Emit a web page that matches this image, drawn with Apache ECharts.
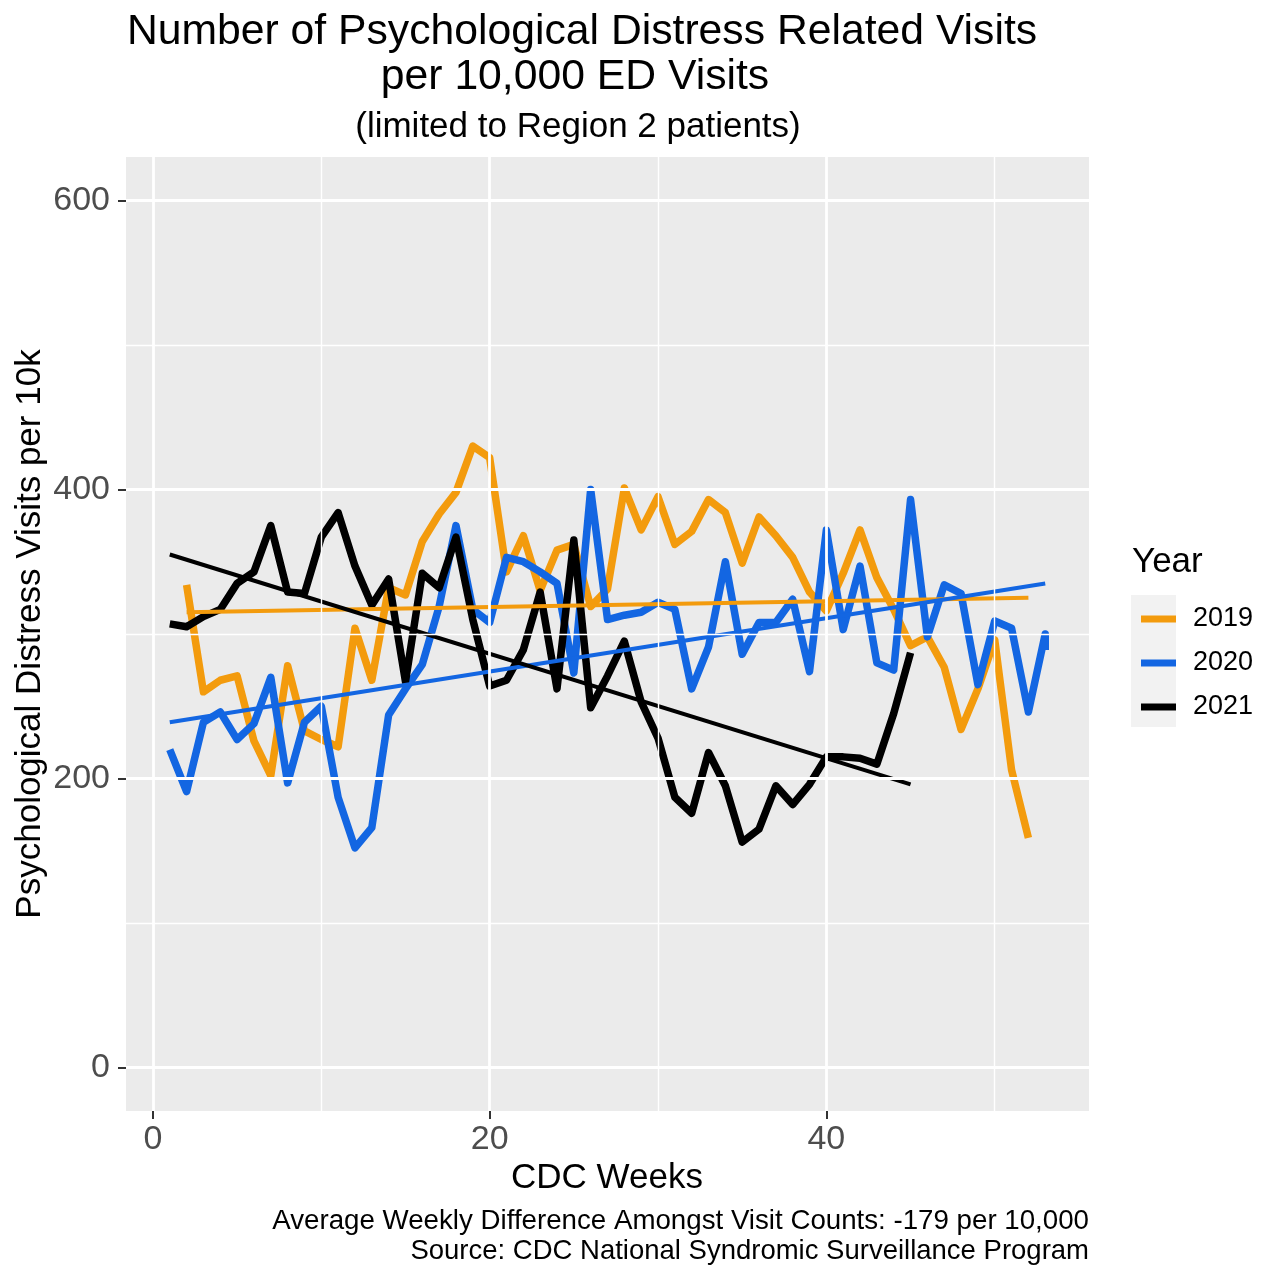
<!DOCTYPE html>
<html>
<head>
<meta charset="utf-8">
<script src="https://cdn.jsdelivr.net/npm/echarts@6/dist/echarts.min.js"></script>
<style>
  html, body { margin: 0; padding: 0; background: #fff; }
  #chart { width: 1265px; height: 1266px; }
</style>
</head>
<body>
<div id="chart"></div>
<script>
/* Psychological distress visits per 10k ED visits, Region 2, by CDC week */

var weeks2019 = [2, 3, 4, 5, 6, 7, 8, 9, 10, 11, 12, 13, 14, 15, 16, 17, 18, 19, 20, 21, 22, 23, 24, 25, 26,
  27, 28, 29, 30, 31, 32, 33, 34, 35, 36, 37, 38, 39, 40, 41, 42, 43, 44, 45, 46, 47, 48, 49, 50, 51, 52];
var visits2019 = [334, 260, 268, 271, 226, 202, 278, 233, 227, 222, 304, 268, 332, 327, 364, 383, 398, 430, 422, 343,
  368, 330, 358, 362, 319, 331, 401, 372, 395, 362, 371, 393, 384, 349, 381, 368, 353, 329, 316, 342,
  372, 339, 317, 292, 298, 277, 234, 262, 296, 206, 159];

var weeks2020 = [1, 2, 3, 4, 5, 6, 7, 8, 9, 10, 11, 12, 13, 14, 15, 16, 17, 18, 19, 20, 21, 22, 23, 24, 25, 26,
  27, 28, 29, 30, 31, 32, 33, 34, 35, 36, 37, 38, 39, 40, 41, 42, 43, 44, 45, 46, 47, 48, 49, 50, 51, 52, 53, 53];
var visits2020 = [220, 191, 239, 246, 227, 238, 270, 197, 239, 250, 187, 152, 166, 244, 262, 279, 319, 375, 317, 308,
  353, 350, 343, 335, 273, 400, 310, 313, 315, 322, 317, 262, 291, 350, 286, 308, 308, 324, 274, 372,
  303, 347, 280, 275, 393, 298, 334, 328, 265, 309, 304, 246, 300, 289];

var weeks2021 = [1, 2, 3, 4, 5, 6, 7, 8, 9, 10, 11, 12, 13, 14, 15, 16, 17, 18, 19, 20, 21, 22, 23, 24, 25, 26,
  27, 28, 29, 30, 31, 32, 33, 34, 35, 36, 37, 38, 39, 40, 41, 42, 43, 44, 45];
var visits2021 = [307, 305, 312, 317, 335, 343, 375, 329, 328, 367, 384, 347, 320, 338, 267, 342, 332, 367, 310, 264,
  268, 289, 329, 262, 365, 249, 271, 295, 253, 228, 187, 176, 218, 195, 156, 165, 195, 182, 196, 215,
  215, 214, 210, 245, 287];

// linear fit lines (end points)
var trendWeeks2019 = [2, 52];
var trendVals2019 = [315, 325];
var trendWeeks2020 = [1, 53];
var trendVals2020 = [239, 335];
var trendWeeks2021 = [1, 45];
var trendVals2021 = [355, 196];

var years = ['2019', '2020', '2021'];
var yearColors = ['#F39B0D', '#1366E2', '#000000'];

var xMajor = [0, 20, 40];
var xMinor = [10, 30, 50];
var yMajor = [0, 200, 400, 600];
var yMinor = [100, 300, 500];

var FONT = "'Liberation Sans', Arial, sans-serif";

function pairs(xs, ys) {
  return xs.map(function (x, i) { return [x, ys[i]]; });
}

function dataLine(name, xs, ys, color) {
  return {
    name: name,
    type: 'line',
    data: pairs(xs, ys),
    showSymbol: false,
    symbol: 'none',
    z: 3,
    itemStyle: { color: color },
    lineStyle: { width: 7.5, color: color, join: 'round', cap: 'butt' },
    emphasis: { disabled: true }
  };
}

function trendLine(name, xs, ys, color) {
  return {
    name: name + ' fit',
    type: 'line',
    data: pairs(xs, ys),
    showSymbol: false,
    symbol: 'none',
    z: 4,
    lineStyle: { width: 4, color: color },
    emphasis: { disabled: true }
  };
}

function gridMarks(vals, key, width) {
  return vals.map(function (v) {
    var d = {};
    d[key] = v;
    d.lineStyle = { width: width };
    return d;
  });
}

var chart = echarts.init(document.getElementById('chart'), null, { renderer: 'canvas' });

chart.setOption({
  animation: false,
  backgroundColor: '#FFFFFF',
  textStyle: { fontFamily: FONT },
  grid: {
    left: 126, right: 176, top: 157, bottom: 155,
    show: true, backgroundColor: '#EBEBEB', borderWidth: 0
  },
  xAxis: {
    type: 'value',
    min: -1.6, max: 55.6,
    axisLine: { show: false, onZero: false },
    axisTick: { show: true, length: 8, customValues: xMajor, lineStyle: { color: '#333333', width: 2 } },
    axisLabel: { customValues: xMajor, color: '#4D4D4D', fontSize: 34, fontFamily: FONT, margin: 12 },
    splitLine: { show: false }
  },
  yAxis: {
    type: 'value',
    min: -30, max: 630,
    axisLine: { show: false, onZero: false },
    axisTick: { show: true, length: 8, customValues: yMajor, lineStyle: { color: '#333333', width: 2 } },
    axisLabel: { customValues: yMajor, color: '#4D4D4D', fontSize: 34, fontFamily: FONT, margin: 16 },
    splitLine: { show: false }
  },
  legend: {
    data: years,
    orient: 'vertical',
    left: 1136,
    top: 599,
    icon: 'rect',
    itemWidth: 35,
    itemHeight: 7,
    itemGap: 14,
    selectedMode: false,
    textStyle: { fontSize: 27, fontFamily: FONT, color: '#000', lineHeight: 30, padding: [0, 0, 0, 12] }
  },
  graphic: [
    { type: 'rect', shape: { x: 1131, y: 595, width: 45, height: 132 }, style: { fill: '#F2F2F2' }, z: 0 },
    { type: 'text', x: 1132, y: 562, style: { text: 'Year', font: '35px ' + FONT, fill: '#000', textAlign: 'left', textVerticalAlign: 'middle' } },
    { type: 'text', x: 582, y: 32, style: { text: 'Number of Psychological Distress Related Visits', font: '42.7px ' + FONT, fill: '#000', textAlign: 'center', textVerticalAlign: 'middle' } },
    { type: 'text', x: 575, y: 77, style: { text: 'per 10,000 ED Visits', font: '42.7px ' + FONT, fill: '#000', textAlign: 'center', textVerticalAlign: 'middle' } },
    { type: 'text', x: 578, y: 127, style: { text: '(limited to Region 2 patients)', font: '35px ' + FONT, fill: '#000', textAlign: 'center', textVerticalAlign: 'middle' } },
    { type: 'text', x: 607, y: 1178, style: { text: 'CDC Weeks', font: '35px ' + FONT, fill: '#000', textAlign: 'center', textVerticalAlign: 'middle' } },
    { type: 'text', x: 30, y: 634, rotation: Math.PI / 2, style: { text: 'Psychological Distress Visits per 10k', font: '35px ' + FONT, fill: '#000', textAlign: 'center', textVerticalAlign: 'middle' } },
    { type: 'text', x: 1089, y: 1221, style: { text: 'Average Weekly Difference Amongst Visit Counts: -179 per 10,000', font: '27.7px ' + FONT, fill: '#000', textAlign: 'right', textVerticalAlign: 'middle' } },
    { type: 'text', x: 1089, y: 1251, style: { text: 'Source: CDC National Syndromic Surveillance Program', font: '27.5px ' + FONT, fill: '#000', textAlign: 'right', textVerticalAlign: 'middle' } }
  ],
  series: [
    {
      name: 'gridlines',
      type: 'line',
      data: [],
      z: 1,
      silent: true,
      markLine: {
        silent: true,
        symbol: 'none',
        label: { show: false },
        emphasis: { disabled: true },
        lineStyle: { color: '#FFFFFF', type: 'solid' },
        data: []
          .concat(gridMarks(yMinor, 'yAxis', 1.4))
          .concat(gridMarks(xMinor, 'xAxis', 1.4))
          .concat(gridMarks(yMajor, 'yAxis', 2.8))
          .concat(gridMarks(xMajor, 'xAxis', 2.8))
      }
    },
    dataLine(years[0], weeks2019, visits2019, yearColors[0]),
    dataLine(years[1], weeks2020, visits2020, yearColors[1]),
    dataLine(years[2], weeks2021, visits2021, yearColors[2]),
    trendLine(years[0], trendWeeks2019, trendVals2019, yearColors[0]),
    trendLine(years[1], trendWeeks2020, trendVals2020, yearColors[1]),
    trendLine(years[2], trendWeeks2021, trendVals2021, yearColors[2])
  ]
});

window.addEventListener('resize', function () { chart.resize(); });
</script>
</body>
</html>
